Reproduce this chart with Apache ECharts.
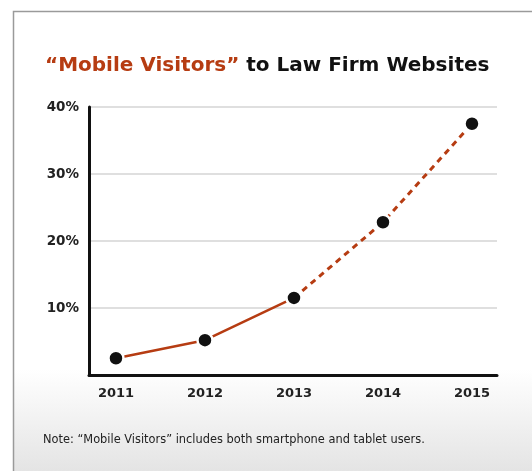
<!DOCTYPE html>
<html><head><meta charset="utf-8">
<script src="https://cdn.jsdelivr.net/npm/echarts@6/dist/echarts.min.js"></script>
<style>html,body{margin:0;padding:0;background:#fff}#c{width:532px;height:471px}</style>
</head><body><div id="c"></div>
<script>
const years = [2011, 2012, 2013, 2014, 2015];
const values = [2.5, 5.2, 11.5, 22.8, 37.5];
const yTicks = [10, 20, 30, 40];
const actualCount = 3; // 2011-2013 solid, 2013-2015 projected (dashed)

const solidData = years.slice(0, actualCount).map((y, i) => [y, values[i]]);
const dashedData = years.slice(actualCount - 1).map((y, i) => [y, values[i + actualCount - 1]]);

const chart = echarts.init(document.getElementById('c'), null, {renderer: 'canvas'});
const lineColor = '#b63c12';
const font = 'DejaVu Sans';
chart.setOption({
  animation: false,
  graphic: [
    {type: 'rect', z: -10, shape: {x: 13, y: 11, width: 519, height: 460},
     style: {fill: new echarts.graphic.LinearGradient(0, 0, 0, 1, [
       {offset: 0, color: '#ffffff'}, {offset: 0.78, color: '#ffffff'}, {offset: 1, color: '#e4e4e4'}])}},
    {type: 'polyline', z: -9, shape: {points: [[13.5, 471], [13.5, 11.5], [532, 11.5]]},
     style: {stroke: '#9a9a9a', lineWidth: 1.5, fill: null}},
    {type: 'text', left: 43, top: 435,
     style: {text: 'Note: “Mobile Visitors” includes both smartphone and tablet users.',
       font: '11.4px "' + font + '"', fill: '#222'}}
  ],
  title: {
    left: 45, top: 56, padding: 0,
    text: '{a|“Mobile Visitors”}{b| to Law Firm Websites}',
    textStyle: {rich: {
      a: {fontFamily: font, fontWeight: 'bold', fontSize: 20, color: lineColor},
      b: {fontFamily: font, fontWeight: 'bold', fontSize: 20, color: '#111'}
    }}
  },
  grid: {left: 89, right: 35, top: 107, bottom: 96, containLabel: false},
  xAxis: {
    type: 'value', min: 2010.697, max: 2015.281,
    axisLine: {show: true, lineStyle: {color: '#111', width: 3}},
    axisTick: {show: false},
    splitLine: {show: false},
    axisLabel: {customValues: years, formatter: v => String(Math.round(v)),
      fontFamily: font, fontWeight: 'bold', fontSize: 13, color: '#222', margin: 12}
  },
  yAxis: {
    type: 'value', min: 0, max: 40, interval: 10,
    axisLine: {show: true, lineStyle: {color: '#111', width: 3}},
    axisTick: {show: false},
    splitLine: {show: true, lineStyle: {color: '#d4d4d4', width: 1.5}},
    axisLabel: {formatter: v => yTicks.includes(v) ? v + '%' : '',
      fontFamily: font, fontWeight: 'bold', fontSize: 13.5, color: '#222', margin: 10,
      padding: [5, 0, 0, 0]}
  },
  series: [
    {type: 'line', data: solidData, symbol: 'circle', symbolSize: 15,
     lineStyle: {color: lineColor, width: 2.5},
     itemStyle: {color: '#111', borderColor: '#fff', borderWidth: 2.5}, z: 3},
    {type: 'line', data: dashedData, symbol: 'circle', symbolSize: 15,
     lineStyle: {color: lineColor, width: 3, type: [6, 5]},
     itemStyle: {color: '#111', borderColor: '#fff', borderWidth: 2.5}, z: 3}
  ]
});
</script></body></html>
